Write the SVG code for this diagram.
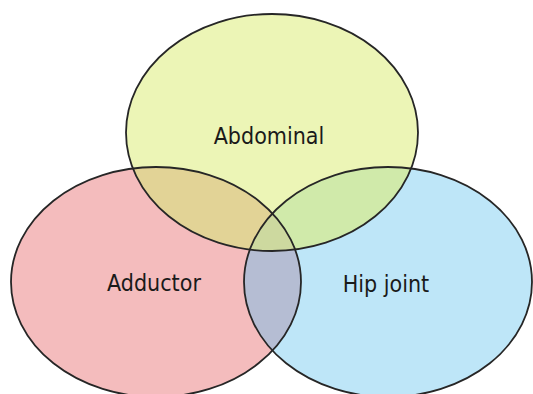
<svg xmlns="http://www.w3.org/2000/svg" xmlns:xlink="http://www.w3.org/1999/xlink" width="533" height="394" viewBox="0 0 533 394">
  <style>
    .label { font-family: "DejaVu Sans Condensed", "DejaVu Sans", sans-serif; font-stretch: condensed; font-size: 23px; fill: #1a1a1a; text-anchor: middle; }
    .outline { fill: none; stroke: #262626; stroke-width: 1.8; }
  </style>
  <defs>
    <ellipse id="e-abd" cx="272" cy="132.5" rx="146" ry="118.5"/>
    <ellipse id="e-add" cx="156" cy="282" rx="145" ry="115"/>
    <ellipse id="e-hip" cx="388" cy="282" rx="144" ry="115"/>
    <clipPath id="clip-add"><use xlink:href="#e-add"/></clipPath>
    <clipPath id="clip-hip"><use xlink:href="#e-hip"/></clipPath>
  </defs>
  <rect width="533" height="394" fill="#ffffff"/>
  <g id="adductor">
    <use xlink:href="#e-add" fill="#F4BCBD"/>
    <text class="label" x="154" y="291">Adductor</text>
  </g>
  <g id="hip-joint">
    <use xlink:href="#e-hip" fill="#BEE6F8"/>
    <text class="label" x="386" y="292">Hip joint</text>
  </g>
  <g id="abdominal">
    <use xlink:href="#e-abd" fill="#ECF5B6"/>
    <text class="label" x="269" y="144">Abdominal</text>
  </g>
  <g id="overlaps">
    <use xlink:href="#e-abd" fill="#E2D396" clip-path="url(#clip-add)"/>
    <use xlink:href="#e-abd" fill="#D0EAAA" clip-path="url(#clip-hip)"/>
    <use xlink:href="#e-hip" fill="#B5BDD3" clip-path="url(#clip-add)"/>
    <g clip-path="url(#clip-add)">
      <use xlink:href="#e-abd" fill="#CDD99F" clip-path="url(#clip-hip)"/>
    </g>
  </g>
  <g id="outlines">
    <use xlink:href="#e-add" class="outline"/>
    <use xlink:href="#e-hip" class="outline"/>
    <use xlink:href="#e-abd" class="outline"/>
  </g>
</svg>
